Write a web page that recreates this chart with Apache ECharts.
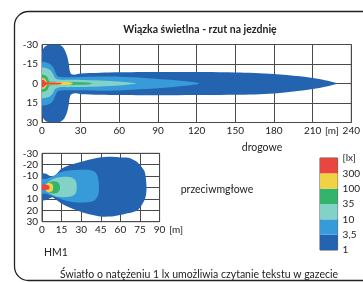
<!DOCTYPE html>
<html>
<head>
<meta charset="utf-8">
<script src="https://cdn.jsdelivr.net/npm/echarts@6/dist/echarts.min.js"></script>
<style>
  html, body { margin: 0; padding: 0; background: #fff; }
  #chart { width: 363px; height: 282px; }
</style>
</head>
<body>
<div id="chart"></div>
<script>
/* ---------- dane: izolinie natężenia [m] (x = odległość, y = przesunięcie boczne) ---------- */
const levelLabels = ['1', '3,5', '10', '35', '100', '300'];
const levelColors = ['#2463b0', '#389bd9', '#82d2c7', '#33b46d', '#f1d245', '#e8463f'];

// światła drogowe
const drog1 = [[0,-24],[1.5,-27.5],[4,-29.5],[8,-30],[12,-30],[15,-29],[17.5,-26],[19.5,-21],[20.8,-15],[21.5,-10],[22.5,-7.5],[25,-6.8],[30,-7.6],[45,-8.3],[60,-8.6],[100,-8.8],[150,-8.5],[180,-7.4],[200,-5.5],[215,-3.4],[224,-1.5],[229,0],[224,1.5],[215,3.4],[200,5.5],[180,7.6],[150,8.7],[100,9],[60,8.8],[45,8.6],[30,8.2],[25,7.6],[22.5,8.5],[21.5,11],[20.8,16],[19.5,22],[17.5,26.5],[15,29],[12,30],[8,30],[4,29.5],[1.5,27.5],[0,24]];
const drog35a = [[0,-16.3],[4,-16],[7,-14.5],[9,-12],[10.5,-8.5],[12,-5.8],[15,-5],[25,-4.8],[45,-5.3],[60,-5.2],[80,-4.3],[100,-2.8],[115,-1.3],[122,0],[115,1.3],[100,2.8],[80,4.3],[60,5.3],[45,5.5],[25,5.2],[15,5.3],[12,6.2],[10.5,9],[9,12.5],[7,15],[4,16.3],[0,16.5]];
const drog10 = [[0,-12],[3,-12],[6,-10.5],[8.5,-7.5],[10,-4.5],[13,-3],[20,-2.8],[30,-2.7],[45,-2.3],[60,-1.5],[68,-0.7],[73,0],[68,0.7],[60,1.5],[45,2.3],[30,2.7],[20,2.8],[13,3],[10,4.5],[8.5,7.5],[6,10],[3,11],[0,11]];
const drog35 = [[0,-6.5],[2.5,-6.3],[4.5,-4.5],[5.5,-2],[7,-1.3],[20,-1.2],[35,-0.8],[39,0],[35,0.8],[20,1.2],[7,1.3],[5.5,2],[4.5,4.5],[2.5,6],[0,6.2]];
const drog100 = [[0,-4],[2,-3.8],[3.2,-2.3],[4,-1.2],[15,-1.1],[22,-0.9],[24,0],[22,0.9],[15,1.1],[4,1.2],[3.2,2.3],[2,3.8],[0,4]];
const drog300 = [[0,-2.7],[1.5,-2.6],[2.5,-1.5],[3.5,-0.9],[10,-0.8],[14,-0.5],[15.5,0],[14,0.5],[10,0.8],[3.5,0.9],[2.5,1.5],[1.5,2.6],[0,2.7]];

// światła przeciwmgłowe
const mgl1 = [[0,-12],[3,-12],[5.5,-10.5],[7,-9],[9,-9.5],[12,-13],[15,-16.5],[22,-20],[30,-22.6],[40,-25.5],[48,-26.8],[54,-27],[60,-26.3],[66,-26],[72,-23],[76,-18.5],[78.5,-14],[79.5,-8],[80,0],[79.5,7],[78,12],[74,19],[70,21.5],[64,23],[58,24.5],[52,25.5],[45,25.5],[38,24],[30,21.5],[22,18],[15,14],[11,11],[8,8.5],[6,9.5],[3,11],[0,11]];
const mgl35a = [[0,-7],[3,-7.5],[6,-9],[10,-11],[16,-14],[25,-15.3],[35,-15.5],[40,-14],[42.5,-10],[43.5,-3],[43.5,3],[42.5,8],[40,11.5],[35,13],[25,13],[18,11.5],[12,9],[7,7],[3,5.5],[0,5]];
const mgl10 = [[4,-3.5],[7,-6.5],[11,-8.5],[16,-9.5],[22,-9],[25.5,-6.5],[26.5,-2],[26.5,2],[25.5,5.5],[22,8],[16,8.5],[11,8],[7,6],[4,3.5]];
const mgl35 = [[4.5,-3],[6,-4.8],[9,-5.4],[12,-4.5],[13.5,-2],[13.8,0],[13.5,2.2],[12,4.3],[9,5.2],[6,4.6],[4.5,3]];
const mgl100 = [[3,-2.8],[4.5,-3.7],[6.5,-3.8],[8,-2.8],[8.6,0],[8,2.8],[6.5,3.8],[4.5,3.7],[3,2.8]];
const mgl300 = [[0,-2.2],[4,-2.3],[5.3,-1.5],[5.8,0],[5.3,1.5],[4,2],[0,2]];

const drogowe = [drog1, drog35a, drog10, drog35, drog100, drog300];
const przeciwmglowe = [mgl1, mgl35a, mgl10, mgl35, mgl100, mgl300];

/* ---------- wykres ---------- */
const FONT = 'Lato';
const INK = '#222';
const GRIDC = '#4a4a4a';

function contour(pts, color, xi, yi) {
  return {
    type: 'custom', xAxisIndex: xi, yAxisIndex: yi, silent: true, clip: true,
    data: pts, encode: { x: 0, y: 1 },
    renderItem: (params, api) => {
      if (params.dataIndex !== 0) return null;
      return {
        type: 'polygon',
        shape: { points: pts.map(p => api.coord(p)), smooth: 0.3 },
        style: { fill: color }
      };
    }
  };
}

const axisLbl = { color: INK, fontFamily: FONT, fontSize: 10 };
const split = { show: true, lineStyle: { color: GRIDC, width: 1 } };
const noLine = { show: false, onZero: false };

const series = [];
drogowe.forEach((pts, i) => series.push(contour(pts, levelColors[i], 0, 0)));
przeciwmglowe.forEach((pts, i) => series.push(contour(pts, levelColors[i], 2, 1)));
levelColors.forEach((c, i) => series.push({
  type: 'bar', xAxisIndex: 3, yAxisIndex: 2, stack: 'lx', barWidth: '100%',
  silent: true, data: [1], itemStyle: { color: c }
}));

const option = {
  animation: false,
  backgroundColor: '#fff',
  title: [
    { text: 'Wiązka świetlna - rzut na jezdnię', left: 195, top: 19, textAlign: 'center',
      textStyle: { fontFamily: FONT, fontSize: 10.5, fontWeight: 'bold', color: INK } },
    { text: 'drogowe', left: 257, top: 137, textAlign: 'center',
      textStyle: { fontFamily: FONT, fontSize: 10.5, fontWeight: 'normal', color: INK } },
    { text: 'przeciwmgłowe', left: 212, top: 179, textAlign: 'center',
      textStyle: { fontFamily: FONT, fontSize: 10.5, fontWeight: 'normal', color: INK } },
    { text: 'HM1', left: 39, top: 242,
      textStyle: { fontFamily: FONT, fontSize: 10.5, fontWeight: 'normal', color: INK } },
    { text: 'Światło o natężeniu 1 lx umożliwia czytanie tekstu w gazecie', left: 194, top: 264, textAlign: 'center',
      textStyle: { fontFamily: FONT, fontSize: 10.5, fontWeight: 'normal', color: INK } }
  ],
  graphic: [{
    type: 'rect', silent: true,
    shape: { x: 14.5, y: 11.5, width: 420, height: 269, r: 14 },
    style: { fill: 'none', stroke: '#222', lineWidth: 1.3 }
  }],
  grid: [
    { left: 42, top: 44.5, width: 311, height: 78, show: true, borderColor: GRIDC, borderWidth: 1 },
    { left: 42, top: 153.3, width: 117.6, height: 68.4, show: true, borderColor: GRIDC, borderWidth: 1 },
    { left: 320, top: 158, width: 20, height: 92, show: true, borderColor: '#555', borderWidth: 1 }
  ],
  xAxis: [
    { type: 'value', gridIndex: 0, position: 'bottom', min: 0, max: 240, interval: 30,
      axisLine: noLine, axisTick: { show: false }, splitLine: split,
      axisLabel: Object.assign({ margin: 3 }, axisLbl) },
    { type: 'value', gridIndex: 0, position: 'bottom', min: 0, max: 240, interval: 15,
      axisLine: noLine, axisTick: { show: false }, splitLine: { show: false },
      axisLabel: Object.assign({ margin: 3, formatter: v => (v === 225 ? '[m]' : '') }, axisLbl) },
    { type: 'value', gridIndex: 1, position: 'bottom', min: 0, max: 90, interval: 15,
      axisLine: noLine, axisTick: { show: false }, splitLine: split,
      axisLabel: Object.assign({ margin: 3 }, axisLbl),
      name: '[m]', nameLocation: 'end', nameGap: 5,
      nameTextStyle: Object.assign({ verticalAlign: 'top', align: 'left', padding: [3, 0, 0, 0] }, axisLbl) },
    { type: 'category', gridIndex: 2, data: ['lx'], show: false }
  ],
  yAxis: [
    { type: 'value', gridIndex: 0, min: -30, max: 30, interval: 15, inverse: true,
      axisLine: noLine, axisTick: { show: false }, splitLine: split,
      axisLabel: Object.assign({ margin: 4 }, axisLbl) },
    { type: 'value', gridIndex: 1, min: -30, max: 30, interval: 10, inverse: true,
      axisLine: noLine, axisTick: { show: false }, splitLine: split,
      axisLabel: Object.assign({ margin: 4 }, axisLbl) },
    { type: 'value', gridIndex: 2, min: 0, max: 6, interval: 1, position: 'right',
      axisLine: noLine, axisTick: { show: false }, splitLine: { show: false },
      axisLabel: Object.assign({ margin: 5, formatter: (v, i) => (i < 6 ? levelLabels[i] : '[lx]') }, axisLbl) }
  ],
  series
};

const chart = echarts.init(document.getElementById('chart'), null, { renderer: 'canvas' });
chart.setOption(option);
</script>
</body>
</html>
